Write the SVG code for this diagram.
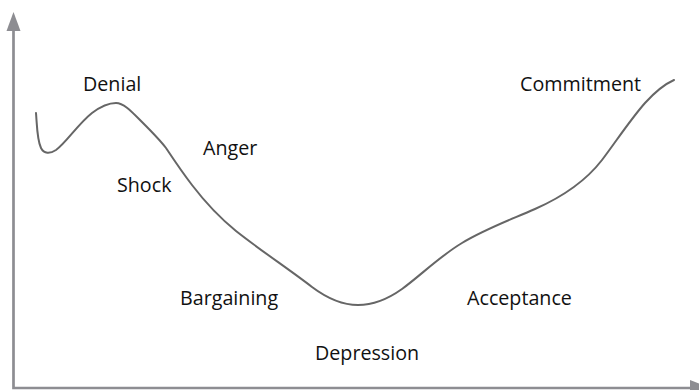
<svg xmlns="http://www.w3.org/2000/svg" width="699" height="390" viewBox="0 0 699 390">
<style>
.ax{stroke:#8d8d92;stroke-width:2.7;fill:none}
.ah{fill:#8d8d92}
.curve{stroke:#666;stroke-width:2;fill:none;stroke-linecap:round;stroke-linejoin:round}
.lbl{font-family:"Open Sans","Noto Sans","Liberation Sans",sans-serif;font-size:19.7px;fill:#111}
</style>
<rect width="699" height="390" fill="#fff"/>
<g id="axes">
<path class="ax" d="M13.5,30 V388 H691"/>
<polygon class="ah" points="13.5,12 20.5,31 6.5,31"/>
<polygon class="ah" points="708,387 690,380 690,394"/>
</g>
<g id="connectors">
<path class="curve" d="M36,113 C37,125 37,140 41,148 C44,154 50,154 56,150 C66,143 78,124 92,113 C100,107 108,103 116,103 C124,103 132,112 142,122 C152,132 160,140 166,148 C174,160 182,172 192,185 C205,202 220,218 236,231 C260,250 290,270 312,287 C328,299 343,305 358,305 C372,305 388,299 402,289 C420,276 440,256 462,243 C485,229 510,220 535,209 C560,198 585,182 602,160 C615,143 630,120 645,103 C655,92 665,84 674,80"/>
</g>
<g id="denial"><text class="lbl" x="83" y="91">Denial</text></g>
<g id="commitment"><text class="lbl" x="520" y="91">Commitment</text></g>
<g id="anger"><text class="lbl" x="203" y="155">Anger</text></g>
<g id="shock"><text class="lbl" x="117" y="192">Shock</text></g>
<g id="bargaining"><text class="lbl" x="180" y="305">Bargaining</text></g>
<g id="acceptance"><text class="lbl" x="467" y="305">Acceptance</text></g>
<g id="depression"><text class="lbl" x="315" y="360">Depression</text></g>
</svg>
